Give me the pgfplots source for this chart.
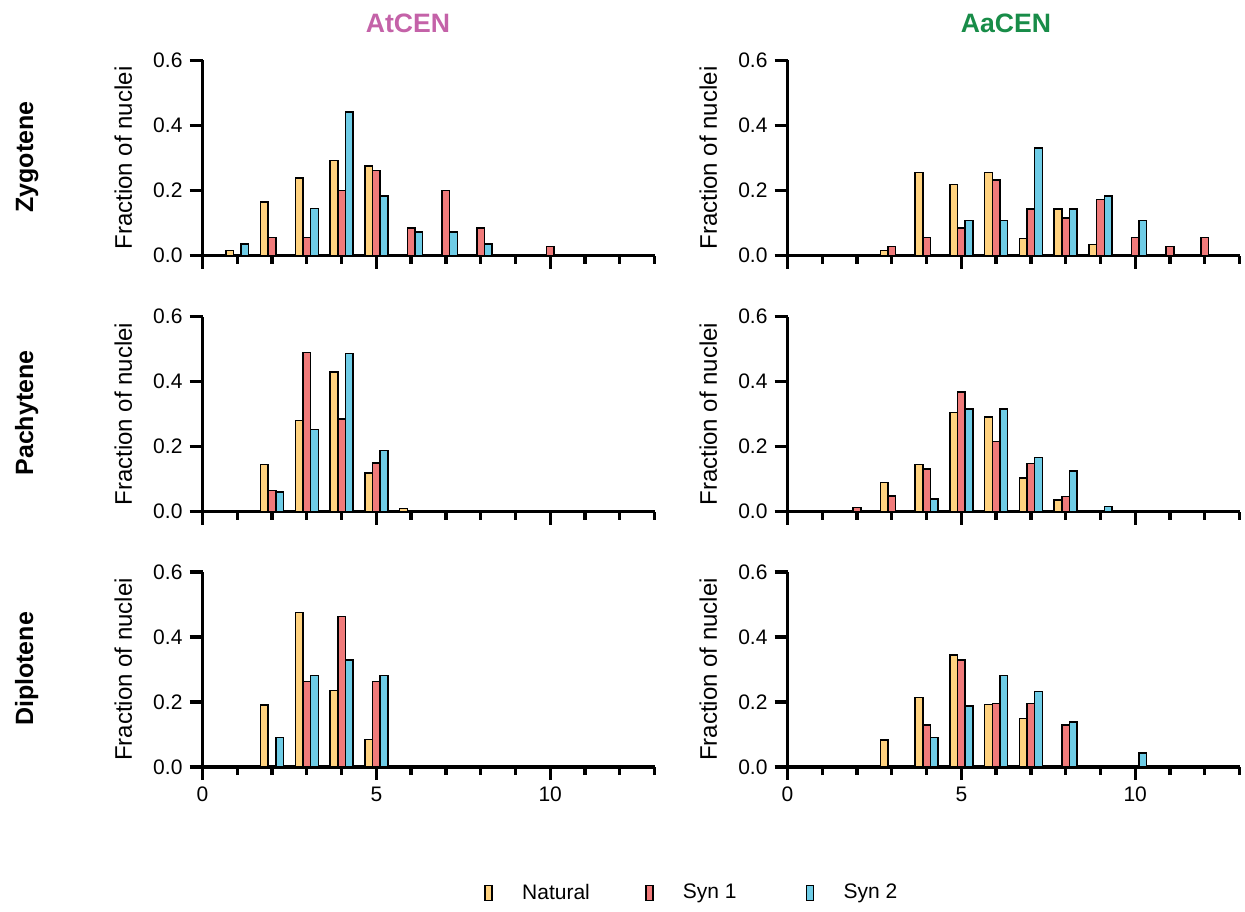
\documentclass[border=0pt]{standalone}
\usepackage{fontspec}
\setmainfont{Liberation Sans}
\usepackage{pgfplots}
\pgfplotsset{compat=1.18}
\definecolor{cnat}{RGB}{255,210,127}
\definecolor{csyna}{RGB}{240,122,122}
\definecolor{csynb}{RGB}{110,204,230}
\definecolor{cpink}{RGB}{196,98,168}
\definecolor{cgreen}{RGB}{24,140,72}
\pgfplotsset{
  panel/.style={
    scale only axis, width=226pt, height=97.5pt,
    xmin=0, xmax=13, ymin=0, ymax=0.6,
    axis lines=left, axis line style={-, line width=1.65pt, black},
    xtick={0,5,10}, minor xtick={1,2,3,4,6,7,8,9,11,12,13},
    ytick={0,0.2,0.4,0.6}, yticklabels={0.0,0.2,0.4,0.6},
    tick align=outside, major tick length=6.5pt, minor tick length=4pt,
    tick style={line width=1.65pt, black},
    tick label style={font=\fontsize{10.5}{12}\selectfont},
    /pgf/number format/assume math mode=true,
    ylabel={Fraction of nuclei},
    every axis y label/.style={at={(axis description cs:-0.156,0.5)}, anchor=base, rotate=90, font=\fontsize{12}{14}\selectfont},
    ybar, bar width=0.22,
    clip=false,
  },
  nat/.style={fill=cnat, draw=black, line width=0.75pt, bar shift=-0.22},
  sa/.style={fill=csyna, draw=black, line width=0.75pt, bar shift=0},
  sb/.style={fill=csynb, draw=black, line width=0.75pt, bar shift=0.22},
}
\begin{document}
\begin{tikzpicture}
% Row 1 Zygotene
\begin{axis}[panel, at={(101.25pt,-127.75pt)}, anchor=south west, xticklabels={}]
\addplot[nat] coordinates {(1,0.015) (2,0.164) (3,0.239) (4,0.293) (5,0.275)};
\addplot[sa] coordinates {(2,0.056) (3,0.056) (4,0.2) (5,0.262) (6,0.084) (7,0.2) (8,0.084) (10,0.027)};
\addplot[sb] coordinates {(1,0.035) (3,0.144) (4,0.441) (5,0.183) (6,0.072) (7,0.072) (8,0.035)};
\end{axis}
\begin{axis}[panel, at={(393.75pt,-127.75pt)}, anchor=south west, xticklabels={}]
\addplot[nat] coordinates {(3,0.015) (4,0.256) (5,0.219) (6,0.256) (7,0.052) (8,0.143) (9,0.034)};
\addplot[sa] coordinates {(3,0.027) (4,0.055) (5,0.085) (6,0.233) (7,0.143) (8,0.115) (9,0.173) (10,0.055) (11,0.027) (12,0.055)};
\addplot[sb] coordinates {(5,0.108) (6,0.108) (7,0.331) (8,0.143) (9,0.183) (10,0.108)};
\end{axis}
% Row 2 Pachytene
\begin{axis}[panel, at={(101.25pt,-255.75pt)}, anchor=south west, xticklabels={}]
\addplot[nat] coordinates {(2,0.145) (3,0.280) (4,0.429) (5,0.119) (6,0.01)};
\addplot[sa] coordinates {(2,0.064) (3,0.489) (4,0.285) (5,0.149)};
\addplot[sb] coordinates {(2,0.060) (3,0.253) (4,0.486) (5,0.188)};
\end{axis}
\begin{axis}[panel, at={(393.75pt,-255.75pt)}, anchor=south west, xticklabels={}]
\addplot[nat] coordinates {(3,0.09) (4,0.144) (5,0.305) (6,0.291) (7,0.103) (8,0.036)};
\addplot[sa] coordinates {(2,0.013) (3,0.047) (4,0.131) (5,0.368) (6,0.215) (7,0.148) (8,0.046)};
\addplot[sb] coordinates {(4,0.039) (5,0.315) (6,0.315) (7,0.166) (8,0.124) (9,0.016)};
\end{axis}
% Row 3 Diplotene
\begin{axis}[panel, at={(101.25pt,-383.5pt)}, anchor=south west]
\addplot[nat] coordinates {(2,0.191) (3,0.476) (4,0.236) (5,0.084)};
\addplot[sa] coordinates {(3,0.263) (4,0.463) (5,0.263)};
\addplot[sb] coordinates {(2,0.091) (3,0.282) (4,0.330) (5,0.282)};
\end{axis}
\begin{axis}[panel, at={(393.75pt,-383.5pt)}, anchor=south west]
\addplot[nat] coordinates {(3,0.083) (4,0.214) (5,0.344) (6,0.192) (7,0.149)};
\addplot[sa] coordinates {(4,0.129) (5,0.330) (6,0.196) (7,0.196) (8,0.129)};
\addplot[sb] coordinates {(4,0.091) (5,0.187) (6,0.282) (7,0.233) (8,0.138) (10,0.043)};
\end{axis}
% Legend holder (invisible axis spanning the picture)
\begin{axis}[at={(0pt,0pt)}, anchor=north west, scale only axis, width=622.5pt, height=455.5pt,
  xmin=0, xmax=1, ymin=0, ymax=1, hide axis,
  legend columns=3,
  legend image code/.code={\draw[#1, line width=0.75pt, draw=black] (0pt,-3.75pt) rectangle (3.5pt,3.75pt); \path[draw=none, fill=none] (0pt,0pt) -- (16.5pt,0pt);},
  legend style={at={(axis description cs:0.3888,0.0198)}, anchor=west, draw=none, fill=none, inner sep=0pt,
    font=\fontsize{10.5}{12}\selectfont, /tikz/every even column/.append style={column sep=25.5pt}},
  legend cell align=left]
\addlegendimage{fill=cnat}
\addlegendentry{\makebox[34pt][l]{Natural}}
\addlegendimage{fill=csyna}
\addlegendentry{\makebox[34pt][l]{Syn 1}}
\addlegendimage{fill=csynb}
\addlegendentry{\makebox[34pt][l]{Syn 2}}
\end{axis}
% Titles and row labels
\node[font=\bfseries\fontsize{13.3}{15}\selectfont, text=cpink] at (204pt,-11.75pt) {AtCEN};
\node[font=\bfseries\fontsize{13.3}{15}\selectfont, text=cgreen] at (503pt,-11.75pt) {AaCEN};
\node[font=\bfseries\fontsize{12.5}{15}\selectfont, rotate=90, anchor=base] at (16.5pt,-78.5pt) {Zygotene};
\node[font=\bfseries\fontsize{12.5}{15}\selectfont, rotate=90, anchor=base] at (16.5pt,-206.5pt) {Pachytene};
\node[font=\bfseries\fontsize{12.5}{15}\selectfont, rotate=90, anchor=base] at (16.5pt,-334.5pt) {Diplotene};
\pgfresetboundingbox
\path[use as bounding box] (0pt,0pt) rectangle (622.5pt,-455.5pt);
\end{tikzpicture}
\end{document}
